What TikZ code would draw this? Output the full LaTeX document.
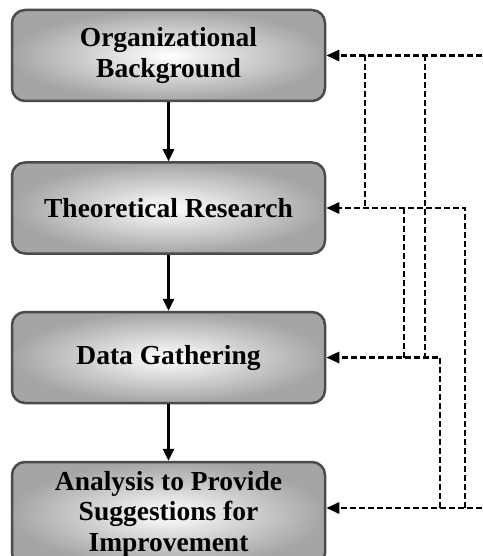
\documentclass[tikz,border=0pt]{standalone}
\usepackage{fontspec}
\setmainfont{Liberation Serif}
\usetikzlibrary{arrows.meta}
\definecolor{boxedge}{RGB}{75,75,75}
\definecolor{boxshade}{RGB}{165,165,165}
\tikzset{
  stagebox/.style={draw=boxedge, line width=2.5pt, rounded corners=13pt,
    shading=radial, inner color=white, outer color=boxshade,
    minimum width=313pt, minimum height=91pt, inner sep=0pt,
    align=center, font=\fontsize{27.5}{30.5}\selectfont\bfseries},
  flow/.style={line width=2.6pt, -{Triangle[length=12pt,width=11pt]}},
  feedback/.style={line width=2.8pt, dash pattern=on 6pt off 3pt},
  feedarrow/.style={feedback, -{Triangle[length=13pt,width=11pt]}}
}
\begin{document}
\begin{tikzpicture}[x=1pt,y=-1pt]
\useasboundingbox (0,0) rectangle (482,556);
\clip (0,0) rectangle (482,556);

% stages
\node[stagebox] (b1) at (168.5,55.5) {Organizational\\Background};
\node[stagebox] (b2) at (168.5,208) {Theoretical Research};
\node[stagebox] (b3) at (168.5,357.5) {Data Gathering};
\node[stagebox, minimum height=104pt] (b4) at (168.5,514) {Analysis to Provide\\Suggestions for\\Improvement};

% main flow
\draw[flow] (b1) -- (b2);
\draw[flow] (b2) -- (b3);
\draw[flow] (b3) -- (b4);

% columns of the feedback lines
\coordinate (c1) at (365,0);
\coordinate (c2) at (404,0);
\coordinate (c3) at (425,0);
\coordinate (c4) at (440,0);
\coordinate (c5) at (465,0);
\coordinate (in1) at (482,0 |- b1.east);
\coordinate (in4) at (482,508);

% feedback lines
\draw[feedarrow] (in1) -- (b1.east);
\draw[feedback] (c1 |- b1.east) -- (c1 |- b2.east);
\draw[feedback] (c3 |- b1.east) -- (c3 |- b3.east);
\draw[feedarrow] (c5 |- in4) -- (c5 |- b2.east) -- (b2.east);
\draw[feedback] (c2 |- b2.east) -- (c2 |- b3.east);
\draw[feedarrow] (c4 |- in4) -- (c4 |- b3.east) -- (b3.east);
\draw[feedarrow] (in4) -- (b4.east |- in4);
\end{tikzpicture}
\end{document}
